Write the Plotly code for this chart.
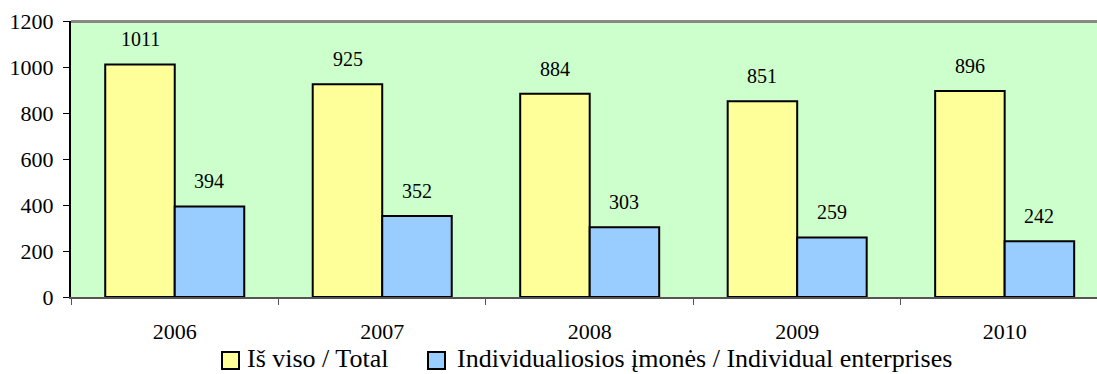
import plotly.graph_objects as go

years = ["2006", "2007", "2008", "2009", "2010"]
total = [1011, 925, 884, 851, 896]
individual = [394, 352, 303, 259, 242]
series_names = ["Iš viso / Total", "Individualiosios įmonės / Individual enterprises"]
colors = ["#FFFF99", "#99CCFF"]

FONT = "Liberation Serif"
W, H = 1097, 374
ML, MR, MT, MB = 71, 0, 21, 77
PW, PH = W - ML - MR, H - MT - MB

fig = go.Figure()
for name, vals, col in zip(series_names, [total, individual], colors):
    fig.add_trace(go.Bar(
        x=years, y=vals, name=name,
        marker=dict(color=col, line=dict(color="black", width=2)),
        hoverinfo="x+y", showlegend=False,
    ))

# value labels above bars
for i, vals in enumerate([total, individual]):
    shift = -34.7 if i == 0 else 34.7
    for j, v in enumerate(vals):
        fig.add_annotation(x=j, y=v, xref="x", yref="y", text=str(v), showarrow=False,
                           xshift=shift, yshift=25, yanchor="middle",
                           font=dict(family=FONT, size=20, color="black"))


def px(x):
    return (x - ML) / PW


def py(y):
    return (H - MB - y) / PH


# top border of plot area
fig.add_shape(type="line", xref="paper", yref="paper", x0=0, x1=1, y0=py(21.5), y1=py(21.5),
              line=dict(color="#888888", width=3), layer="above")

# legend drawn at the bottom (pixel layout converted to paper coords)
legend_items = [(222, 245), (428, 455)]
for (mx, tx), name, col in zip(legend_items, series_names, colors):
    fig.add_shape(type="rect", xref="paper", yref="paper",
                  x0=px(mx), x1=px(mx + 17), y0=py(352), y1=py(369),
                  fillcolor=col, line=dict(color="black", width=2))
    fig.add_annotation(xref="paper", yref="paper", x=px(tx), y=py(358),
                       xanchor="left", yanchor="middle", text=name, showarrow=False,
                       font=dict(family=FONT, size=26, color="black"))

fig.update_layout(
    width=W, height=H,
    margin=dict(l=ML, r=MR, t=MT, b=MB),
    paper_bgcolor="white", plot_bgcolor="#CCFFCC",
    barmode="group", bargap=0.33, bargroupgap=0,
    font=dict(family=FONT, size=20, color="black"),
    showlegend=False,
    xaxis=dict(type="category", range=[-0.5, 4.445], showline=True, linecolor="#555555",
               linewidth=2, ticks="outside", ticklen=6, tickcolor="#555555",
               tickson="boundaries", showgrid=False, ticklabelstandoff=14,
               automargin=False, tickfont=dict(family=FONT, size=22)),
    yaxis=dict(range=[0, 1200], dtick=200, showline=True, linecolor="black", linewidth=2,
               ticks="outside", ticklen=6, tickcolor="black", showgrid=False,
               zeroline=False, ticklabelstandoff=5, automargin=False,
               tickfont=dict(family=FONT, size=22)),
)

fig.write_html("out.html", config={"displayModeBar": False},
               post_script="document.body.style.margin='0';document.body.style.padding='0';"
                           "document.body.style.overflow='hidden';")
